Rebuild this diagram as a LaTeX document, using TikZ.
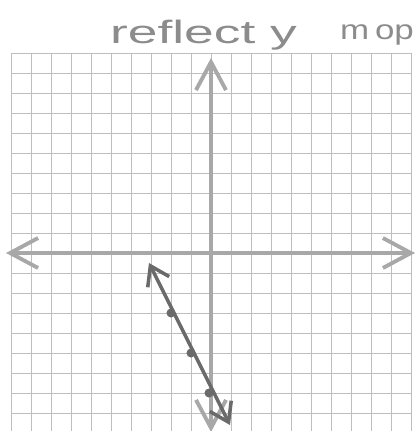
\documentclass[tikz,border=0pt]{standalone}
\usepackage{fontspec}
\setmainfont{Liberation Sans}
\usetikzlibrary{arrows.meta}
\definecolor{gridc}{HTML}{BEBEBE}
\definecolor{axisc}{HTML}{A8A8A8}
\definecolor{inkc}{HTML}{6A6A6A}
\definecolor{textc}{HTML}{8C8C8C}
\tikzset{
  axtip/.tip={Straight Barb[length=14mm,width=15mm]},
  gtip/.tip={Straight Barb[length=9mm,width=12mm]}}
\begin{document}
\begin{tikzpicture}[x=1cm,y=1cm,
  gridline/.style={draw=gridc, line width=1.1pt},
  axisline/.style={draw=axisc, line width=5.5pt, line cap=round},
  graphline/.style={draw=inkc, line width=5pt, line cap=round},
  dotnode/.style={circle, fill=inkc, inner sep=0pt, minimum size=4.5mm},
  hand/.style={text=textc, inner sep=0pt, font=\fontsize{46}{50}\selectfont}]
\useasboundingbox (-10.55,-8.9) rectangle (10.3,12.65);
\fill[white] (-10.55,-8.9) rectangle (10.3,12.65);
\draw[gridline] (-10,-8.9) grid (10,10);
% axes
\coordinate (xl) at (-10.25,0);
\coordinate (xr) at (10.2,0);
\coordinate (yt) at (0,9.75);
\coordinate (yb) at (0,-8.95);
\draw[axisline, axtip-axtip] (xl) -- (xr);
\draw[axisline, axtip-axtip] (yb) -- (yt);
% graph line
\coordinate (ltop) at (-3.1,-0.5);
\coordinate (lbot) at (0.95,-8.6);
\draw[graphline, gtip-gtip] (ltop) -- (lbot);
\node[dotnode] (p1) at (-2,-3) {};
\node[dotnode] (p2) at (-1,-5) {};
\node[dotnode] (p3) at (-0.1,-7) {};
% title
\node[hand, anchor=base west] (t1) at (-5.05,10.45) {\scalebox{1.65}[1]{reflect y}};
\node[hand, anchor=base west] (t2) at (6.45,10.65) {\scalebox{1.08}[0.85]{m\,op}};
\end{tikzpicture}
\end{document}
